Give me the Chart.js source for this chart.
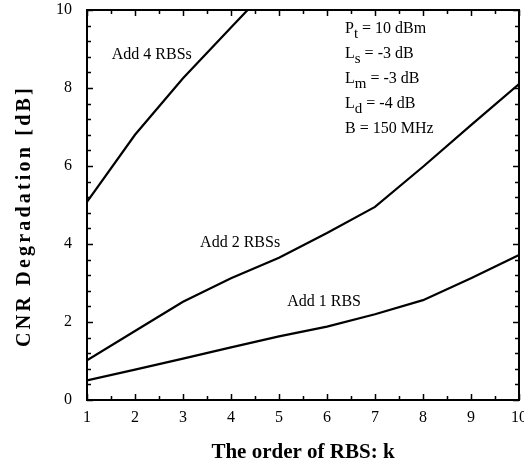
<!DOCTYPE html>
<html>
<head>
<meta charset="utf-8">
<script src="https://cdn.jsdelivr.net/npm/chart.js@4"></script>
<style>
  html, body { margin: 0; padding: 0; background: #fff; }
  #wrap { width: 524px; height: 465px; }
</style>
</head>
<body>
<div id="wrap"><canvas id="c" width="524" height="465"></canvas></div>
<script>
const kOrder = [1, 2, 3, 4, 5, 6, 7, 8, 9, 10];
const add1 = [0.5, 0.78, 1.06, 1.35, 1.63, 1.88, 2.2, 2.56, 3.12, 3.72];
const add2 = [1.02, 1.77, 2.52, 3.12, 3.65, 4.28, 4.95, 5.98, 7.05, 8.1];
const add4 = [5.08, 6.8, 8.25, 9.55, 10.85, null, null, null, null, null];

const xTicks = [1, 2, 3, 4, 5, 6, 7, 8, 9, 10];
const yTicks = [0, 2, 4, 6, 8, 10];

// text placed on the plot (data units)
const curveNotes = [
  { text: 'Add 4 RBSs', x: 2.35, y: 8.85 },
  { text: 'Add 2 RBSs', x: 4.19, y: 4.03 },
  { text: 'Add 1 RBS', x: 5.94, y: 2.51 }
];
const params = [
  ['P', 't', ' = 10 dBm'],
  ['L', 's', ' = -3 dB'],
  ['L', 'm', ' = -3 dB'],
  ['L', 'd', ' = -4 dB'],
  ['B = 150 MHz', '', '']
];

const serif = '"Liberation Serif", "DejaVu Serif", serif';

function pts(arr) {
  return kOrder.map((k, i) => ({ x: k, y: arr[i] }));
}

const frameAndText = {
  id: 'frameAndText',
  afterDatasetsDraw(chart) {
    const ctx = chart.ctx;
    const a = chart.chartArea;
    const xs = chart.scales.x, ys = chart.scales.y;
    ctx.save();
    ctx.strokeStyle = '#000';
    ctx.lineWidth = 2;
    ctx.strokeRect(a.left, a.top, a.right - a.left, a.bottom - a.top);

    // inward ticks on all four sides
    ctx.lineWidth = 1.5;
    ctx.beginPath();
    for (let i = 0; i <= 25; i++) {
      const v = i * 0.4;
      const py = Math.round(ys.getPixelForValue(v)) + 0.5;
      const len = (i % 5 === 0) ? 6 : 4;
      ctx.moveTo(a.left, py); ctx.lineTo(a.left + len, py);
      ctx.moveTo(a.right, py); ctx.lineTo(a.right - len, py);
    }
    for (let i = 0; i <= 18; i++) {
      const v = 1 + i * 0.5;
      const px = Math.round(xs.getPixelForValue(v)) + 0.5;
      const len = (i % 2 === 0) ? 6 : 4;
      ctx.moveTo(px, a.bottom); ctx.lineTo(px, a.bottom - len);
      ctx.moveTo(px, a.top); ctx.lineTo(px, a.top + len);
    }
    ctx.stroke();

    // curve labels
    ctx.fillStyle = '#000';
    ctx.font = '16px ' + serif;
    ctx.textAlign = 'center';
    ctx.textBaseline = 'middle';
    curveNotes.forEach(n => {
      ctx.fillText(n.text, xs.getPixelForValue(n.x), ys.getPixelForValue(n.y));
    });

    // parameter block
    ctx.textAlign = 'left';
    ctx.textBaseline = 'alphabetic';
    const px0 = xs.getPixelForValue(6.375);
    params.forEach((p, i) => {
      const py = ys.getPixelForValue(9.41 - i * 0.64);
      let x = px0;
      ctx.font = '16px ' + serif;
      ctx.fillText(p[0], x, py);
      x += ctx.measureText(p[0]).width;
      if (p[1]) {
        ctx.font = '15px ' + serif;
        ctx.fillText(p[1], x, py + 5);
        x += ctx.measureText(p[1]).width;
      }
      ctx.font = '16px ' + serif;
      ctx.fillText(p[2], x, py);
    });

    // axis titles
    ctx.font = 'bold 21px ' + serif;
    ctx.textAlign = 'center';
    ctx.textBaseline = 'middle';
    ctx.fillText('The order of RBS: k', (a.left + a.right) / 2, 453);

    ctx.font = 'bold 20px ' + serif;
    ctx.translate(25, 216);
    ctx.rotate(-Math.PI / 2);
    ctx.letterSpacing = '3.2px';
    ctx.fillText('CNR Degradation [dB]', 0, 0);
    ctx.restore();
  }
};

new Chart(document.getElementById('c'), {
  type: 'line',
  data: {
    datasets: [
      { label: 'Add 1 RBS', data: pts(add1) },
      { label: 'Add 2 RBSs', data: pts(add2) },
      { label: 'Add 4 RBSs', data: pts(add4) }
    ].map(d => Object.assign(d, {
      borderColor: '#000',
      borderWidth: 2.2,
      pointRadius: 0,
      tension: 0,
      fill: false
    }))
  },
  options: {
    responsive: false,
    animation: false,
    layout: { padding: { left: 0, right: 5, top: 10, bottom: 0 } },
    plugins: { legend: { display: false }, tooltip: { enabled: false } },
    scales: {
      x: {
        type: 'linear',
        min: 1,
        max: 10,
        afterBuildTicks: s => { s.ticks = xTicks.map(v => ({ value: v })); },
        ticks: { color: '#000', font: { family: serif, size: 16 }, padding: 8, maxRotation: 0 },
        grid: { display: false, drawTicks: false },
        border: { display: false },
        afterFit: s => { s.height = 65; s.paddingLeft = 0; s.paddingRight = 0; }
      },
      y: {
        type: 'linear',
        min: 0,
        max: 10,
        afterBuildTicks: s => { s.ticks = yTicks.map(v => ({ value: v })); },
        ticks: { color: '#000', font: { family: serif, size: 16 }, padding: 15 },
        grid: { display: false, drawTicks: false },
        border: { display: false },
        afterFit: s => { s.width = 87; s.paddingTop = 0; s.paddingBottom = 0; }
      }
    }
  },
  plugins: [frameAndText]
});
</script>
</body>
</html>
